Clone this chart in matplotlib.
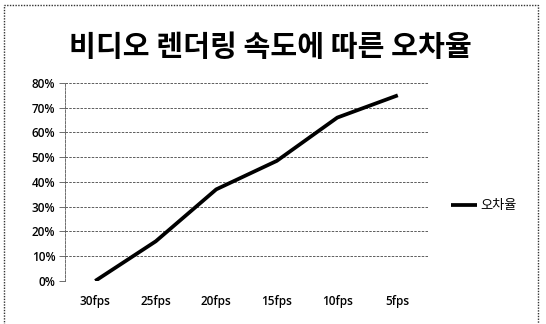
import matplotlib.pyplot as plt
from matplotlib.patches import Rectangle

plt.rcParams['font.family'] = ['Noto Sans CJK KR', 'DejaVu Sans']

# 렌더링 속도별 오차율
fps_labels = ['30fps', '25fps', '20fps', '15fps', '10fps', '5fps']
error_rate = [0.0, 16.0, 37.0, 48.5, 66.0, 75.0]
yticks = [0, 10, 20, 30, 40, 50, 60, 70, 80]

fig = plt.figure(figsize=(5.46, 3.24), dpi=100)
ax = fig.add_axes([0.119, 0.133, 0.665, 0.611])

x = list(range(len(fps_labels)))
ax.plot(x, error_rate, color='black', linewidth=2.7, label='오차율',
        solid_capstyle='butt')

ax.set_xlim(-0.5, len(fps_labels) - 0.5)
ax.set_ylim(0, 80)
ax.set_yticks(yticks)
ax.set_yticklabels([f'{v}%' for v in yticks], family=['Open Sans', 'DejaVu Sans'],
                   fontsize=8.5, fontweight='semibold')
ax.set_xticks(x)
ax.set_xticklabels(fps_labels, family=['Open Sans', 'DejaVu Sans'], fontsize=8.5,
                   fontweight='semibold')
ax.tick_params(axis='x', length=0, pad=10)
ax.tick_params(axis='y', length=4, width=0.6, color='#555555', pad=3)

ax.grid(axis='y', color='#444444', linestyle=(0, (3, 1.5)), linewidth=0.6)
for side in ['top', 'right', 'bottom']:
    ax.spines[side].set_visible(False)
ax.spines['left'].set_color('#555555')
ax.spines['left'].set_linewidth(0.6)
ax.spines['left'].set_linestyle((0, (3, 1.5)))

fig.text(0.495, 0.855, '비디오 렌더링 속도에 따른 오차율', ha='center', va='center',
         fontsize=21, fontweight='bold')

leg = ax.legend(loc='center left', bbox_to_anchor=(1.03, 0.38), frameon=False,
                handlelength=2.0, handletextpad=0.2, fontsize=9.5)

# 차트 바깥 점선 테두리
fig.patches.append(Rectangle((4 / 546, -0.05), 534 / 546, 1.0 - 5 / 324 + 0.05,
                             transform=fig.transFigure, fill=False,
                             edgecolor='#333333', linewidth=1.0,
                             linestyle=(0, (1, 1))))

fig.savefig('out.png', dpi=100)
